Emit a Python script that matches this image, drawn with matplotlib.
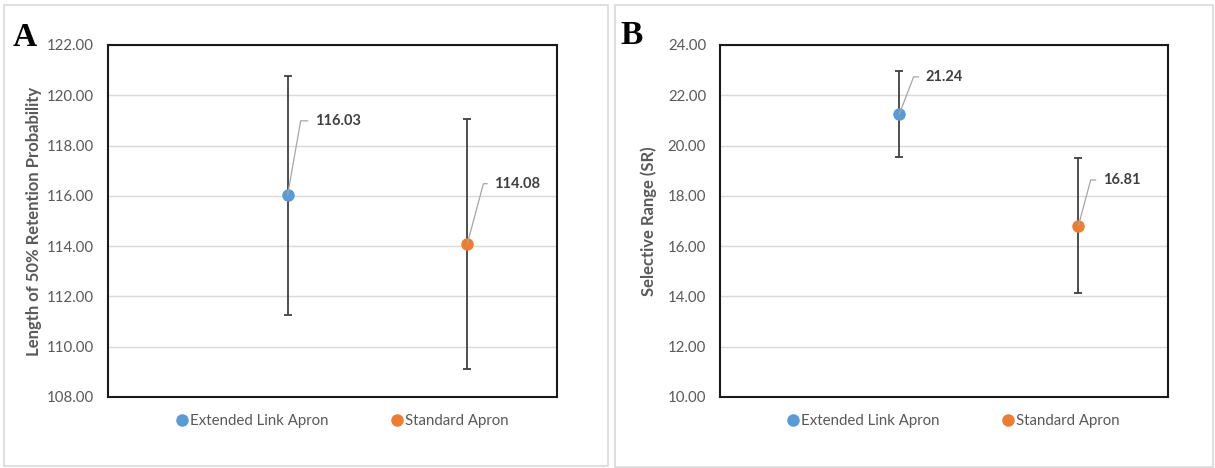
import matplotlib
matplotlib.use("Agg")
import matplotlib.pyplot as plt
from matplotlib.lines import Line2D
from matplotlib.patches import Rectangle
from matplotlib.ticker import FormatStrFormatter, MultipleLocator

plt.rcParams['font.family'] = ['Lato', 'DejaVu Sans']

# ---- data ----
categories = ["Extended Link Apron", "Standard Apron"]
x_pos = [1, 2]
colors = ["#5B9BD5", "#ED7D31"]

a_values = [116.03, 114.08]
a_errors = [4.75, 4.98]
a_ylabel = "Length of 50% Retention Probability"
a_ylim = (108, 122)

b_values = [21.24, 16.81]
b_errors = [1.71, 2.69]
b_ylabel = "Selective Range (SR)"
b_ylim = (10, 24)

# label offsets in points (text position), and leader angles
a_label_off = [(19.5, 53.5), (19.5, 43.5)]
a_leader_ang = [80, 75]
b_label_off = [(19, 27), (17.5, 33)]
b_leader_ang = [69, 75]

fig = plt.figure(figsize=(12.15, 4.68), dpi=100)
W, H = 1215, 468

# panel borders
fig.patches.append(Rectangle((4 / W, 1 - 466 / H), 604 / W, 461 / H, transform=fig.transFigure,
                             fill=False, edgecolor="#D9D9D9", lw=1.2))
fig.patches.append(Rectangle((615 / W, 1 - 467 / H), 598 / W, 462 / H, transform=fig.transFigure,
                             fill=False, edgecolor="#D9D9D9", lw=1.2))

axA = fig.add_axes([108 / W, 1 - 397 / H, 449 / W, 352 / H])
axB = fig.add_axes([720 / W, 1 - 397 / H, 448 / W, 352 / H])


def draw(ax, values, errors, ylabel, ylim, offs, angs, label_x, legend_x):
    ax.set_xlim(0, 2.5)
    ax.set_ylim(*ylim)
    ax.yaxis.set_major_locator(MultipleLocator(2))
    ax.yaxis.set_major_formatter(FormatStrFormatter('%.2f'))
    ax.grid(axis='y', color="#D9D9D9", lw=1.0)
    ax.set_axisbelow(True)
    ax.set_xticks([])
    ax.tick_params(axis='y', length=0, pad=10, labelsize=10.8, labelcolor="#595959")
    for s in ax.spines.values():
        s.set_color("#1a1a1a")
        s.set_linewidth(1.5)
    for xi, v, e, c, off, ang in zip(x_pos, values, errors, colors, offs, angs):
        ax.errorbar([xi], [v], yerr=[e], fmt='none', ecolor="#404040", elinewidth=1.3,
                    capsize=2.6, capthick=1.3, zorder=3)
        ax.plot([xi], [v], 'o', color=c, markersize=8, zorder=4)
        ax.annotate(f"{v:.2f}", xy=(xi, v), xytext=off, textcoords='offset points',
                    ha='left', va='center', fontsize=10.5, fontweight='bold', color="#404040",
                    arrowprops=dict(arrowstyle='-', color="#A6A6A6", lw=0.9,
                                    connectionstyle=f"angle,angleA=0,angleB={ang},rad=0",
                                    relpos=(0, 0.5), shrinkA=3, shrinkB=0),
                    zorder=5)
    ax.set_ylabel(ylabel, fontsize=12, fontweight='bold', color="#595959")
    ax.yaxis.set_label_coords(label_x, 0.5)
    handles = [Line2D([], [], marker='o', ls='none', color=c, markersize=8) for c in colors]
    ax.legend(handles, categories, loc='center', bbox_to_anchor=(legend_x, -0.068), ncol=2,
              frameon=False, fontsize=10.8, labelcolor="#595959", handlelength=0.6,
              handletextpad=0.2, columnspacing=4.3, borderaxespad=0)


draw(axA, a_values, a_errors, a_ylabel, a_ylim, a_label_off, a_leader_ang, -0.147, 0.523)
draw(axB, b_values, b_errors, b_ylabel, b_ylim, b_label_off, b_leader_ang, -0.14, 0.523)

fig.text(25 / W, 1 - 38 / H, "A", family="Liberation Serif", fontweight='bold', fontsize=24,
         ha='center', va='center', color='black')
fig.text(632 / W, 1 - 36 / H, "B", family="Liberation Serif", fontweight='bold', fontsize=24,
         ha='center', va='center', color='black')

fig.savefig("out.png", dpi=100)
